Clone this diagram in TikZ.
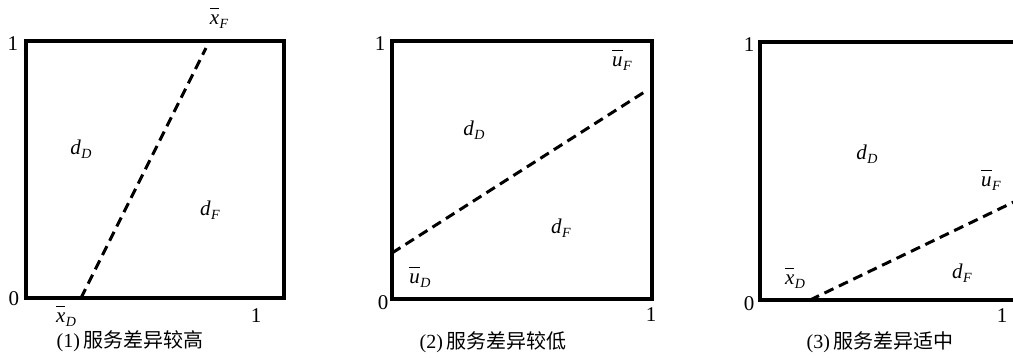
\documentclass[tikz,border=0pt]{standalone}
\usepackage{fontspec}
\setmainfont{Liberation Serif}
\newfontfamily\cjk{Noto Sans CJK SC}
\newcommand\subl[1]{\kern0.5pt\raisebox{-0.4ex}{\fontsize{14}{14}\selectfont\textit{#1}}}
\newcommand\ivar[2]{\textit{#1}\subl{#2}}
\newcommand\bvar[2]{$\overline{\mbox{\textit{#1}}\vphantom{\mbox{\textit{d}}}}$\subl{#2}}
\tikzset{
  frame/.style={line width=3.2pt, line cap=rect, line join=miter},
  border/.style={line width=3pt, dash pattern=on 10pt off 6pt},
  lab/.style={inner sep=0pt, font=\fontsize{21}{21}\selectfont},
  num/.style={inner sep=0pt, font=\fontsize{21}{21}\selectfont},
  captext/.style={inner sep=0pt, font=\fontsize{20}{20}\selectfont}
}
\begin{document}
\begin{tikzpicture}[x=1pt,y=-1pt]
\useasboundingbox (0,0) rectangle (1013,357);
% ---------- panel 1 ----------
\draw[frame] (26,41) rectangle (284,298);
\coordinate (p1a) at (81,298);
\coordinate (p1b) at (206,48);
\draw[border] (p1a) -- (p1b);
\node[num] (p1one) at (13,44) {1};
\node[num] (p1zero) at (14,299) {0};
\node[num] (p1xone) at (256,316) {1};
\node[lab] (p1xF) at (219,18) {\bvar{x}{F}};
\node[lab] (p1xD) at (66,316) {\bvar{x}{D}};
\node[lab] (p1dD) at (81,149) {\ivar{d}{D}};
\node[lab] (p1dF) at (210,210) {\ivar{d}{F}};
\node[captext] (p1cap) at (130,341) {(1)\,{\cjk 服务差异较高}};
% ---------- panel 2 ----------
\draw[frame] (392,41) rectangle (652,299);
\coordinate (p2a) at (392,253);
\coordinate (p2b) at (646,91);
\draw[border] (p2a) -- (p2b);
\node[num] (p2one) at (380,44) {1};
\node[num] (p2zero) at (383,303) {0};
\node[num] (p2xone) at (651,315) {1};
\node[lab] (p2uF) at (622,60) {\bvar{u}{F}};
\node[lab] (p2uD) at (420,277) {\bvar{u}{D}};
\node[lab] (p2dD) at (474,130) {\ivar{d}{D}};
\node[lab] (p2dF) at (561,228) {\ivar{d}{F}};
\node[captext] (p2cap) at (493,342) {(2)\,{\cjk 服务差异较低}};
% ---------- panel 3 ----------
\draw[frame] (1030,42) -- (760,42) -- (760,300) -- (1030,300);
\coordinate (p3a) at (810,300);
\coordinate (p3b) at (1020,199);
\draw[border] (p3a) -- (p3b);
\node[num] (p3one) at (749,45) {1};
\node[num] (p3zero) at (749,304) {0};
\node[num] (p3xone) at (1002,316) {1};
\node[lab] (p3uF) at (991,180) {\bvar{u}{F}};
\node[lab] (p3xD) at (795,278) {\bvar{x}{D}};
\node[lab] (p3dD) at (867,154) {\ivar{d}{D}};
\node[lab] (p3dF) at (962,273) {\ivar{d}{F}};
\node[captext] (p3cap) at (880,342) {(3)\,{\cjk 服务差异适中}};
\end{tikzpicture}
\end{document}
